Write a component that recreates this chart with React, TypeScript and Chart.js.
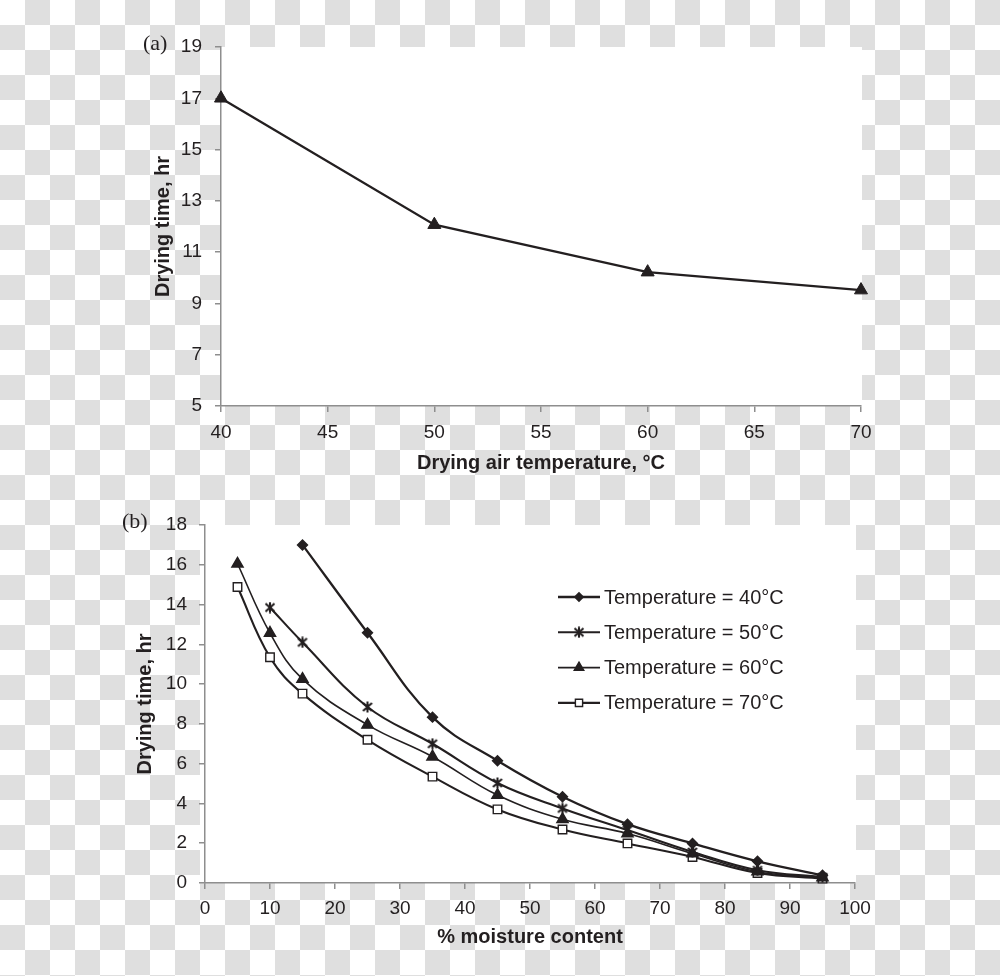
import React, { useEffect, useRef } from "react";
import { Chart, registerables } from "chart.js";
import { drawPoint } from "chart.js/helpers";

Chart.register(...registerables);

// ---------- Panel (a) data ----------
const airTemps = [40, 50, 60, 70];
const dryingTimeA = [17.0, 12.07, 10.22, 9.52];
const xTicksA = { min: 40, max: 70, step: 5 };
const yTicksA = { min: 5, max: 19, step: 2 };

// ---------- Panel (b) data ----------
const moistureT40 = [15, 25, 35, 45, 55, 65, 75, 85, 95];
const timeT40 = [17.0, 12.58, 8.34, 6.15, 4.34, 2.96, 1.99, 1.09, 0.39];
const moistureT50 = [10, 15, 25, 35, 45, 55, 65, 75, 85, 95];
const timeT50 = [13.85, 12.1, 8.85, 7.0, 5.03, 3.75, 2.66, 1.56, 0.64, 0.3];
const moistureT60 = [5, 10, 15, 25, 35, 45, 55, 65, 75, 85, 95];
const timeT60 = [16.05, 12.57, 10.25, 7.95, 6.35, 4.42, 3.2, 2.49, 1.48, 0.57, 0.27];
const moistureT70 = [5, 10, 15, 25, 35, 45, 55, 65, 75, 85, 95];
const timeT70 = [14.88, 11.35, 9.52, 7.2, 5.35, 3.7, 2.69, 1.99, 1.31, 0.5, 0.22];
const seriesLabels = [
  "Temperature = 40°C",
  "Temperature = 50°C",
  "Temperature = 60°C",
  "Temperature = 70°C",
];
const xTicksB = { min: 0, max: 100, step: 10 };
const yTicksB = { min: 0, max: 18, step: 2 };

const TEXT = "#231f20";
const AXIS = "#8e8e8e";
const FAMILY = "'Liberation Sans', Arial, Helvetica, sans-serif";

const toPoints = (xs: number[], ys: number[]) => xs.map((x, i) => ({ x, y: ys[i] }));

const areaBg = {
  id: "areaBg",
  beforeDraw(chart: any, _a: any, opts: any) {
    const { ctx, chartArea: a } = chart;
    const ext = (opts && opts.extendLeft) || 0;
    ctx.save();
    ctx.fillStyle = "#ffffff";
    ctx.fillRect(a.left - ext, a.top, a.right - a.left + ext + 1, a.bottom - a.top);
    ctx.restore();
  },
};

const lineLegend = {
  id: "lineLegend",
  afterDraw(chart: any, _a: any, opts: any) {
    if (!opts || !opts.show) return;
    const { ctx, chartArea } = chart;
    const x0 = chartArea.left + opts.dx;
    const y0 = chartArea.top + opts.dy;
    chart.data.datasets.forEach((ds: any, i: number) => {
      const y = y0 + i * opts.rowGap;
      ctx.save();
      ctx.strokeStyle = ds.borderColor;
      ctx.lineWidth = ds.borderWidth;
      ctx.beginPath();
      ctx.moveTo(x0, y);
      ctx.lineTo(x0 + opts.lineLen, y);
      ctx.stroke();
      ctx.fillStyle = ds.pointBackgroundColor;
      ctx.strokeStyle = ds.pointBorderColor;
      ctx.lineWidth = ds.pointBorderWidth;
      drawPoint(
        ctx,
        { pointStyle: ds.pointStyle, rotation: 0, radius: ds.pointRadius * 0.85, borderWidth: ds.pointBorderWidth },
        x0 + opts.lineLen / 2,
        y
      );
      ctx.fillStyle = TEXT;
      ctx.font = `${opts.fontSize}px ${FAMILY}`;
      ctx.textAlign = "left";
      ctx.textBaseline = "middle";
      ctx.fillText(ds.label, x0 + opts.lineLen + 4, y + 1);
      ctx.restore();
    });
  },
};

function makeAsterisk(): HTMLCanvasElement {
  const c = document.createElement("canvas");
  c.width = 12;
  c.height = 12;
  const g = c.getContext("2d")!;
  g.strokeStyle = TEXT;
  g.lineWidth = 2.1;
  g.lineCap = "butt";
  g.beginPath();
  g.moveTo(1.5, 2);
  g.lineTo(10.5, 10);
  g.moveTo(10.5, 2);
  g.lineTo(1.5, 10);
  g.moveTo(6, 0.5);
  g.lineTo(6, 11.5);
  g.stroke();
  return c;
}

function axisCommon(title: string, t: { min: number; max: number; step: number }, tickPad: number) {
  return {
    type: "linear" as const,
    min: t.min,
    max: t.max,
    ticks: {
      stepSize: t.step,
      color: TEXT,
      font: { size: 19, family: FAMILY },
      padding: tickPad,
    },
    grid: {
      drawOnChartArea: false,
      drawTicks: true,
      tickLength: 6,
      color: AXIS,
      lineWidth: 1.5,
    },
    border: { display: true, color: AXIS, width: 1.5 },
    title: {
      display: true,
      text: title,
      color: TEXT,
      font: { size: 20, weight: "bold" as const, family: FAMILY },
      padding: { top: 4, bottom: 4 },
    },
  };
}

export default function App() {
  const refA = useRef<HTMLCanvasElement | null>(null);
  const refB = useRef<HTMLCanvasElement | null>(null);

  useEffect(() => {
    Chart.defaults.font.family = FAMILY;
    const asterisk = makeAsterisk();

    const xA: any = axisCommon("Drying air temperature, °C", xTicksA, 9);
    xA.afterFit = (s: any) => { s.height = 73; };
    const yA: any = axisCommon("Drying time, hr", yTicksA, 13);
    yA.afterFit = (s: any) => { s.width = 74; };

    const chartA = new Chart(refA.current!, {
      type: "line",
      data: {
        datasets: [
          {
            label: "Drying time",
            data: toPoints(airTemps, dryingTimeA),
            borderColor: TEXT,
            borderWidth: 2.3,
            pointStyle: "triangle",
            pointRadius: 7.5,
            pointBackgroundColor: TEXT,
            pointBorderColor: TEXT,
            pointBorderWidth: 1,
            tension: 0,
            clip: false as any,
          },
        ],
      },
      options: {
        animation: false,
        responsive: false,
        maintainAspectRatio: false,
        layout: { padding: { left: 147, right: 139, top: 47, bottom: 11 } },
        scales: { x: xA, y: yA },
        plugins: { legend: { display: false }, tooltip: { enabled: false } } as any,
      },
      plugins: [areaBg],
    });

    const xB: any = axisCommon("% moisture content", xTicksB, 8);
    xB.afterFit = (s: any) => { s.height = 70; };
    const yB: any = axisCommon("Drying time, hr", yTicksB, 12);
    yB.afterFit = (s: any) => { s.width = 76; };

    const mk = (label: string, xs: number[], ys: number[], style: any, radius: number, fill: string, bw: number) => ({
      label,
      data: toPoints(xs, ys),
      borderColor: TEXT,
      borderWidth: bw,
      pointStyle: style,
      pointRadius: radius,
      pointBackgroundColor: fill,
      pointBorderColor: TEXT,
      pointBorderWidth: 1.4,
      tension: 0.4,
      clip: false as any,
    });

    const chartB = new Chart(refB.current!, {
      type: "line",
      data: {
        datasets: [
          mk(seriesLabels[0], moistureT40, timeT40, "rectRot", 5, TEXT, 2.3),
          mk(seriesLabels[1], moistureT50, timeT50, asterisk, 6, TEXT, 2.1),
          mk(seriesLabels[2], moistureT60, timeT60, "triangle", 6.5, TEXT, 1.6),
          mk(seriesLabels[3], moistureT70, timeT70, "rect", 6, "#ffffff", 2.1),
        ],
      },
      options: {
        animation: false,
        responsive: false,
        maintainAspectRatio: false,
        layout: { padding: { left: 129, right: 145, top: 35, bottom: 23 } },
        scales: { x: xB, y: yB },
        plugins: {
          legend: { display: false },
          tooltip: { enabled: false },
          areaBg: { extendLeft: 5 },
          lineLegend: { show: true, dx: 353, dy: 72, rowGap: 35.3, lineLen: 42, fontSize: 20 },
        } as any,
      },
      plugins: [areaBg, lineLegend],
    });

    return () => {
      chartA.destroy();
      chartB.destroy();
    };
  }, []);

  return (
    <div
      style={{
        position: "absolute",
        left: 0,
        top: 0,
        width: 1000,
        height: 976,
        overflow: "hidden",
        backgroundColor: "#ffffff",
        backgroundImage: "repeating-conic-gradient(#dfdfdf 0% 25%, #ffffff 0% 50%)",
        backgroundSize: "50px 50px",
        backgroundPosition: "0 0",
      }}
    >
      <canvas
        ref={refA}
        width={1000}
        height={490}
        style={{ position: "absolute", left: 0, top: 0, width: 1000, height: 490 }}
      />
      <canvas
        ref={refB}
        width={1000}
        height={486}
        style={{ position: "absolute", left: 0, top: 490, width: 1000, height: 486 }}
      />
      <div
        style={{
          position: "absolute",
          left: 143,
          top: 31,
          fontFamily: "'Liberation Serif', 'Times New Roman', serif",
          fontSize: 22,
          lineHeight: "24px",
          color: TEXT,
        }}
      >
        (a)
      </div>
      <div
        style={{
          position: "absolute",
          left: 122,
          top: 509,
          fontFamily: "'Liberation Serif', 'Times New Roman', serif",
          fontSize: 22,
          lineHeight: "24px",
          color: TEXT,
        }}
      >
        (b)
      </div>
    </div>
  );
}
